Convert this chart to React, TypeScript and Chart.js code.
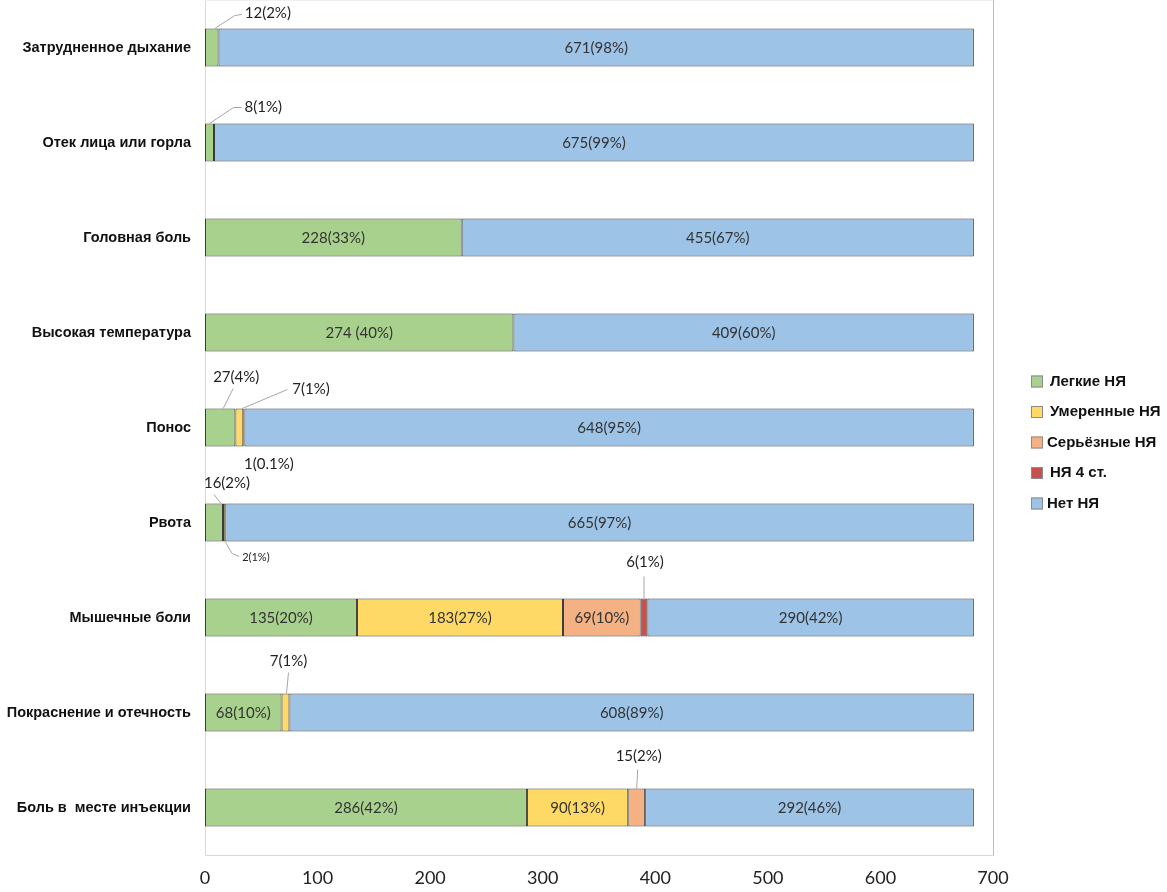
import React, { useEffect, useRef } from 'react';
import { Chart, registerables } from 'chart.js';

Chart.register(...registerables);

const categories = [
  'Затрудненное дыхание',
  'Отек лица или горла',
  'Головная боль',
  'Высокая температура',
  'Понос',
  'Рвота',
  'Мышечные боли',
  'Покраснение и отечность',
  'Боль в  месте инъекции',
];
const seriesNames = ['Легкие НЯ', 'Умеренные НЯ', 'Серьёзные НЯ', 'НЯ 4 ст.', 'Нет НЯ'];
const mild = [12, 8, 228, 274, 27, 16, 135, 68, 286];
const moderate = [0, 0, 0, 0, 7, 2, 183, 7, 90];
const serious = [0, 0, 0, 0, 1, 0, 69, 0, 15];
const grade4 = [0, 0, 0, 0, 0, 0, 6, 0, 0];
const noAE = [671, 675, 455, 409, 648, 665, 290, 608, 292];

const mildLabels = ['12(2%)', '8(1%)', '228(33%)', '274 (40%)', '27(4%)', '16(2%)', '135(20%)', '68(10%)', '286(42%)'];
const moderateLabels = ['', '', '', '', '7(1%)', '2(1%)', '183(27%)', '7(1%)', '90(13%)'];
const seriousLabels = ['', '', '', '', '1(0.1%)', '', '69(10%)', '', '15(2%)'];
const grade4Labels = ['', '', '', '', '', '', '6(1%)', '', ''];
const noAELabels = ['671(98%)', '675(99%)', '455(67%)', '409(60%)', '648(95%)', '665(97%)', '290(42%)', '608(89%)', '292(46%)'];

const xMin = 0;
const xMax = 700;
const xStep = 100;

const colors = ['#a9d18e', '#ffd966', '#f4b183', '#c5504d', '#9dc3e6'];

// callout layout (offsets relative to segment centre and bar edge)
type Callout = {
  ds: number;
  idx: number;
  edge: 'top' | 'bottom';
  text: [number, number];
  align: CanvasTextAlign;
  line: [number, number][];
  small?: boolean;
};
const callouts: Callout[] = [
  { ds: 0, idx: 0, edge: 'top', text: [33, -15], align: 'left', line: [[3, 0], [23, -13], [30, -14]] },
  { ds: 0, idx: 1, edge: 'top', text: [35, -16], align: 'left', line: [[0, 0], [24, -16], [32, -16]] },
  { ds: 0, idx: 4, edge: 'top', text: [16, -31], align: 'center', line: [[3, 0], [13, -20]] },
  { ds: 1, idx: 4, edge: 'top', text: [53, -19], align: 'left', line: [[3, 0], [48, -19]] },
  { ds: 2, idx: 4, edge: 'bottom', text: [25, 18], align: 'center', line: [] },
  { ds: 0, idx: 5, edge: 'top', text: [13, -20], align: 'center', line: [[7, 0], [0, -9]] },
  { ds: 1, idx: 5, edge: 'bottom', text: [18, 16], align: 'left', line: [[1, 0], [8, 12], [15, 15]], small: true },
  { ds: 3, idx: 6, edge: 'top', text: [1, -36], align: 'center', line: [[0, 0], [0, -22]] },
  { ds: 1, idx: 7, edge: 'top', text: [3, -32], align: 'center', line: [[1, 0], [3, -21]] },
  { ds: 2, idx: 8, edge: 'top', text: [2, -32], align: 'center', line: [[0, 0], [1, -19]] },
];

const valueFont = '15px Lato';

const labelsPlugin = {
  id: 'valueLabels',
  afterDatasetsDraw(chart: any) {
    const ctx = chart.ctx as CanvasRenderingContext2D;
    const allLabels = [mildLabels, moderateLabels, seriousLabels, grade4Labels, noAELabels];
    ctx.save();
    ctx.textBaseline = 'middle';
    allLabels.forEach((labels, ds) => {
      const meta = chart.getDatasetMeta(ds);
      labels.forEach((text, idx) => {
        if (!text) return;
        const el = meta.data[idx];
        if (!el) return;
        const p = el.getProps(['x', 'y', 'base', 'height'], true);
        const cx = (p.x + p.base) / 2;
        const top = p.y - p.height / 2;
        const bottom = p.y + p.height / 2;
        const co = callouts.find((c) => c.ds === ds && c.idx === idx);
        if (!co) {
          ctx.font = valueFont;
          ctx.fillStyle = '#333333';
          ctx.textAlign = 'center';
          ctx.fillText(text, cx, p.y + 1);
          return;
        }
        const ey = co.edge === 'top' ? top : bottom;
        if (co.line.length > 1) {
          ctx.strokeStyle = '#a6a6a6';
          ctx.lineWidth = 1;
          ctx.beginPath();
          co.line.forEach(([dx, dy], k) => {
            if (k === 0) ctx.moveTo(cx + dx, ey + dy);
            else ctx.lineTo(cx + dx, ey + dy);
          });
          ctx.stroke();
        }
        ctx.font = co.small ? '11px Lato' : valueFont;
        ctx.fillStyle = '#222222';
        ctx.textAlign = co.align;
        ctx.fillText(text, cx + co.text[0], ey + co.text[1]);
      });
    });
    ctx.restore();
  },
};

const frameAndLegendPlugin = {
  id: 'frameLegend',
  beforeDatasetsDraw(chart: any) {
    const { ctx, chartArea } = chart;
    ctx.save();
    ctx.strokeStyle = '#d9d9d9';
    ctx.lineWidth = 1;
    ctx.beginPath();
    ctx.moveTo(chartArea.left + 0.5, chartArea.top + 0.5);
    ctx.lineTo(chartArea.left + 0.5, chartArea.bottom + 0.5);
    ctx.lineTo(chartArea.right + 0.5, chartArea.bottom + 0.5);
    ctx.stroke();
    ctx.strokeStyle = '#bdbdbd';
    ctx.beginPath();
    ctx.moveTo(chartArea.right + 0.5, chartArea.top);
    ctx.lineTo(chartArea.right + 0.5, chartArea.bottom + 0.5);
    ctx.stroke();
    ctx.strokeStyle = '#efefef';
    ctx.beginPath();
    ctx.moveTo(chartArea.left, chartArea.top + 0.5);
    ctx.lineTo(chartArea.right, chartArea.top + 0.5);
    ctx.stroke();
    ctx.restore();
  },
  afterDraw(chart: any) {
    const { ctx, chartArea } = chart;
    const mid = (chartArea.top + chartArea.bottom) / 2;
    const bx = chartArea.right + 38;
    ctx.save();
    ctx.textBaseline = 'middle';
    ctx.textAlign = 'left';
    ctx.font = 'bold 15px "Liberation Sans"';
    seriesNames.forEach((name, i) => {
      const cy = mid - 46 + i * 30.5;
      ctx.fillStyle = colors[i];
      ctx.fillRect(bx, cy - 6, 12, 12);
      ctx.strokeStyle = '#8c8c8c';
      ctx.lineWidth = 1;
      ctx.strokeRect(bx + 0.5, cy - 5.5, 11, 11);
      ctx.fillStyle = '#111111';
      const tx = i === 2 || i === 4 ? bx + 16 : bx + 19;
      ctx.fillText(name, tx, cy);
    });
    ctx.restore();
  },
};

export default function App() {
  const canvasRef = useRef<HTMLCanvasElement | null>(null);

  useEffect(() => {
    if (!canvasRef.current) return;
    const series = [mild, moderate, serious, grade4, noAE];
    const chart = new Chart(canvasRef.current, {
      type: 'bar',
      data: {
        labels: categories,
        datasets: series.map((vals, i) => ({
          label: seriesNames[i],
          data: vals.map((v) => (v === 0 ? null : v)),
          backgroundColor: colors[i],
          borderColor: '#3a3a3a',
          borderWidth: 1,
          borderSkipped: false,
          barPercentage: 0.8,
          categoryPercentage: 0.5,
        })),
      },
      options: {
        indexAxis: 'y',
        animation: false,
        responsive: true,
        maintainAspectRatio: false,
        layout: { padding: { top: 0, right: 174, bottom: 0, left: 0 } },
        plugins: {
          legend: { display: false },
          tooltip: { enabled: false },
        },
        scales: {
          x: {
            stacked: true,
            min: xMin,
            max: xMax,
            ticks: {
              stepSize: xStep,
              color: '#222222',
              font: { family: 'Lato', size: 18 },
              padding: 12,
            },
            grid: { display: false, drawTicks: false },
            border: { display: false },
            afterFit: (scale: any) => {
              scale.height = 37;
              scale.paddingLeft = 0;
              scale.paddingRight = 0;
            },
          },
          y: {
            stacked: true,
            ticks: {
              color: '#111111',
              font: { family: 'Liberation Sans', size: 14.5, weight: 'bold' },
              padding: 14,
            },
            grid: { display: false, drawTicks: false },
            border: { display: false },
            afterFit: (scale: any) => {
              scale.width = 205;
              scale.paddingTop = 0;
              scale.paddingBottom = 0;
            },
          },
        },
      },
      plugins: [frameAndLegendPlugin, labelsPlugin],
    } as any);
    return () => chart.destroy();
  }, []);

  return (
    <div style={{ position: 'fixed', left: 0, top: 0, width: 1167, height: 892, background: '#ffffff' }}>
      <canvas ref={canvasRef} />
    </div>
  );
}
